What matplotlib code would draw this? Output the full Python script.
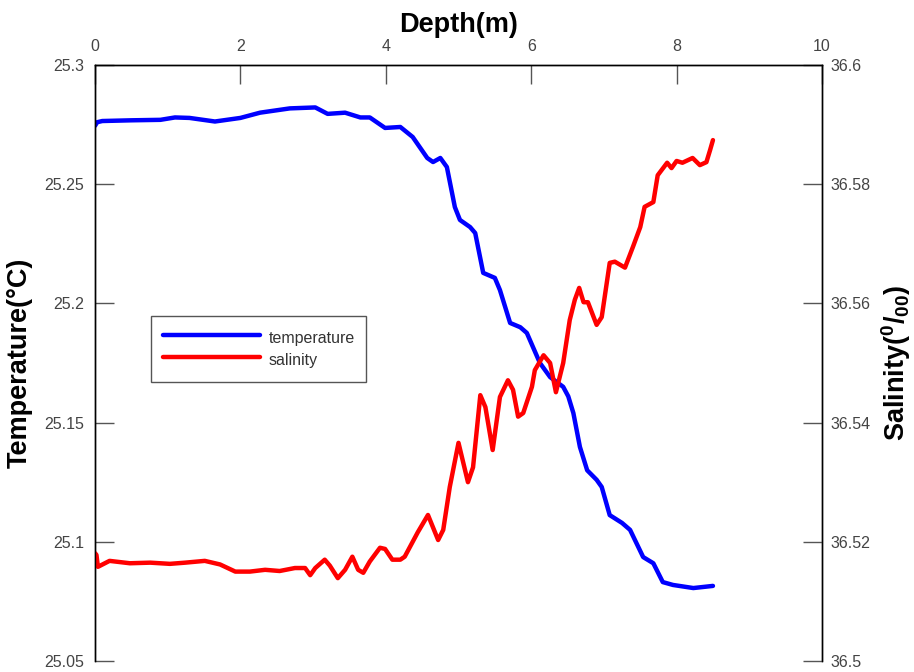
import numpy as np
import matplotlib
matplotlib.use("Agg")
import matplotlib.pyplot as plt

# depth (m) and values
temp_depth = [0.0, 0.03, 0.1, 0.5, 0.9, 1.1, 1.3, 1.65, 2.0, 2.27, 2.68, 3.03, 3.2, 3.44,
              3.65, 3.78, 3.99, 4.2, 4.37, 4.57, 4.65, 4.75, 4.84, 4.95, 5.02, 5.16, 5.23,
              5.34, 5.5, 5.57, 5.71, 5.85, 5.94, 6.12, 6.26, 6.44, 6.51, 6.58, 6.67, 6.77,
              6.9, 6.97, 7.08, 7.25, 7.36, 7.54, 7.68, 7.81, 7.95, 8.23, 8.5]
temperature = [25.2745, 25.276, 25.2765, 25.2768, 25.277, 25.278, 25.2778, 25.2763, 25.2778,
               25.2800, 25.2818, 25.2822, 25.2795, 25.2800, 25.2780, 25.2780, 25.2736, 25.2740,
               25.2698, 25.2610, 25.2593, 25.2610, 25.2572, 25.2404, 25.2350, 25.2320, 25.2295,
               25.2128, 25.2107, 25.2056, 25.1918, 25.1900, 25.1876, 25.1750, 25.1691, 25.1650,
               25.1610, 25.1540, 25.1398, 25.1300, 25.1260, 25.1230, 25.1112, 25.1079, 25.1050,
               25.0936, 25.0910, 25.0831, 25.0819, 25.0806, 25.0815]

sal_depth = [0.0, 0.02, 0.04, 0.2, 0.48, 0.76, 1.03, 1.24, 1.51, 1.72, 1.93, 2.13, 2.34, 2.54,
             2.75, 2.89, 2.96, 3.03, 3.16, 3.23, 3.34, 3.44, 3.54, 3.62, 3.69, 3.78, 3.92,
             3.99, 4.09, 4.2, 4.26, 4.44, 4.58, 4.72, 4.79, 4.88, 5.0, 5.13, 5.2, 5.3, 5.37,
             5.47, 5.57, 5.68, 5.75, 5.82, 5.89, 6.01, 6.05, 6.17, 6.26, 6.34, 6.44, 6.53,
             6.6, 6.66, 6.72, 6.78, 6.9, 6.97, 7.08, 7.15, 7.29, 7.4, 7.5, 7.56, 7.68, 7.74,
             7.87, 7.93, 8.0, 8.08, 8.22, 8.32, 8.41, 8.46, 8.5]
salinity = [36.5181, 36.5178, 36.5158, 36.5168, 36.5164, 36.5165, 36.5163, 36.5165, 36.5168,
            36.5162, 36.5150, 36.5150, 36.5153, 36.5151, 36.5156, 36.5156, 36.5144, 36.5156,
            36.5170, 36.5160, 36.5139, 36.5153, 36.5175, 36.5153, 36.5148, 36.5167, 36.5190,
            36.5188, 36.5170, 36.5170, 36.5175, 36.5216, 36.5245, 36.5203, 36.5220, 36.5292,
            36.5366, 36.5300, 36.5325, 36.5446, 36.5426, 36.5354, 36.5443, 36.5471, 36.5455,
            36.5410, 36.5416, 36.5460, 36.5488, 36.5513, 36.5500, 36.5451, 36.5500, 36.5572,
            36.5606, 36.5626, 36.5602, 36.5602, 36.5564, 36.5577, 36.5668, 36.5670, 36.5660,
            36.5695, 36.5728, 36.5762, 36.5770, 36.5815, 36.5836, 36.5827, 36.5839, 36.5836,
            36.5844, 36.5832, 36.5837, 36.5857, 36.5874]

x_ticks = [0, 2, 4, 6, 8, 10]
t_ticks = [25.05, 25.1, 25.15, 25.2, 25.25, 25.3]
s_ticks = [36.5, 36.52, 36.54, 36.56, 36.58, 36.6]

plt.rcParams['font.family'] = ['Liberation Sans', 'DejaVu Sans']
plt.rcParams['mathtext.fontset'] = 'custom'
plt.rcParams['mathtext.rm'] = 'Liberation Sans:bold'
plt.rcParams['mathtext.bf'] = 'Liberation Sans:bold'

fig = plt.figure(figsize=(9.14, 6.72), dpi=100)
ax = fig.add_axes([95 / 914, 1 - 661 / 672, 727 / 914, 596 / 672])
ax2 = ax.twinx()

l1, = ax.plot(temp_depth, temperature, color='#0000ff', lw=3.2, solid_capstyle='round',
              label='temperature')
l2, = ax2.plot(sal_depth, salinity, color='#ff0000', lw=3.2, solid_capstyle='round',
               label='salinity')

ax.set_xlim(0, 10)
ax.set_ylim(25.05, 25.3)
ax2.set_ylim(36.5, 36.6)
ax.set_xticks(x_ticks)
ax.set_xticklabels([str(v) for v in x_ticks])
ax.set_yticks(t_ticks)
ax.set_yticklabels(['25.05', '25.1', '25.15', '25.2', '25.25', '25.3'])
ax2.set_yticks(s_ticks)
ax2.set_yticklabels(['36.5', '36.52', '36.54', '36.56', '36.58', '36.6'])

ax.xaxis.tick_top()
ax.xaxis.set_label_position('top')
for a in (ax, ax2):
    a.spines['bottom'].set_visible(False)
    for s in a.spines.values():
        s.set_linewidth(1.0)
ax.tick_params(axis='x', direction='in', length=14, width=1, color='#555555',
               labelcolor='#444444', labelsize=11.5, pad=8)
ax.tick_params(axis='y', direction='in', length=14, width=1, color='#555555',
               labelcolor='#444444', labelsize=11.5, pad=8)
ax2.tick_params(axis='y', direction='in', length=14, width=1, color='#555555',
                labelcolor='#444444', labelsize=11.5, pad=6)

ax.set_xlabel('Depth(m)', fontsize=19.5, fontweight='bold', labelpad=5)
ax.set_ylabel('Temperature(°C)', fontsize=19.5, fontweight='bold', labelpad=8)
ax2.set_ylabel(r'Salinity($^{0}/_{00}$)', fontsize=19.5, fontweight='bold', labelpad=6)

leg = ax2.legend([l1, l2], ['temperature', 'salinity'], loc='upper left',
                 bbox_to_anchor=(151 / 914, 1 - 316 / 672), bbox_transform=fig.transFigure,
                 borderaxespad=0, fancybox=False, framealpha=1, edgecolor='#555555',
                 fontsize=11.5, handlelength=6.1, handletextpad=0.55, labelspacing=0.1,
                 handleheight=1.6, borderpad=0.72)
leg.get_frame().set_linewidth(1.0)
for t in leg.get_texts():
    t.set_color('#333333')

fig.savefig('out.png', dpi=100)
